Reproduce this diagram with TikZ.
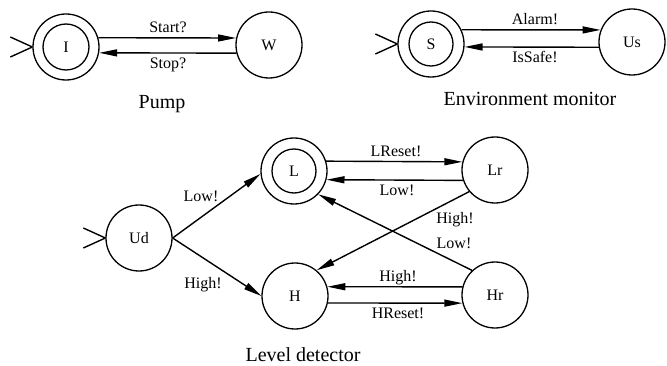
\documentclass[tikz,border=0pt]{standalone}
\usepackage{fontspec}
\setmainfont{Liberation Serif}
\usetikzlibrary{arrows.meta}
\begin{document}
\begin{tikzpicture}[x=1pt,y=-1pt,
  state/.style={circle,draw,line width=1.3pt,minimum size=66pt,inner sep=0pt,
    font=\fontsize{16}{18}\selectfont},
  ring/.style={line width=1.3pt},
  trans/.style={line width=1.4pt,-{Triangle[length=18pt,width=7pt]}},
  entry/.style={line width=1.4pt},
  lbl/.style={inner sep=0pt,font=\fontsize{16}{18}\selectfont},
  caption/.style={inner sep=0pt,anchor=base,font=\fontsize{20}{22}\selectfont}]
\useasboundingbox (0,0) rectangle (667,366);

% ---------- Pump ----------
\node[state] (I) at (66,47) {I};
\node[state] (W) at (269,45) {W};
\draw[ring] (I.center) circle[radius=23pt];
\draw[entry] (I.west) -- ++(-22,-10);
\draw[entry] (I.west) -- ++(-22,10);
\draw[trans] (I.16) -- (W.168);
\draw[trans] (W.194) -- (I.-10);
\node[lbl,anchor=base] (lstart) at (168,33) {Start?};
\node[lbl,anchor=base] (lstop) at (168,69) {Stop?};
\node[caption] (cpump) at (162,109) {Pump};

% ---------- Environment monitor ----------
\node[state] (S) at (431,44) {S};
\node[state] (Us) at (632,42) {Us};
\draw[ring] (S.center) circle[radius=22pt];
\draw[entry] (S.west) -- ++(-22,-10);
\draw[entry] (S.west) -- ++(-22,10);
\draw[trans] (S.25) -- (Us.159);
\draw[trans] (Us.189) -- (S.-5);
\node[lbl,anchor=base] (lalarm) at (535,25) {Alarm!};
\node[lbl,anchor=base] (lsafe) at (535,63) {IsSafe!};
\node[caption] (cenv) at (530,106) {Environment monitor};

% ---------- Level detector ----------
\node[state] (Ud) at (139,238) {Ud};
\node[state] (L) at (294,171) {L};
\node[state] (Lr) at (495,170) {Lr};
\node[state] (H) at (295,296) {H};
\node[state] (Hr) at (495,295) {Hr};
\draw[ring] (L.center) circle[radius=22pt];
\draw[entry] (Ud.west) -- ++(-22,-10);
\draw[entry] (Ud.west) -- ++(-22,10);

\draw[trans] (Ud.east) -- (L.185);
\draw[trans] (Ud.east) -- (H.180);
\node[lbl] (ludlow) at (201,196) {Low!};
\node[lbl] (ludhigh) at (203,285) {High!};

\draw[trans] (L.17) -- (Lr.166);
\draw[trans] (Lr.198) -- (L.-15);
\node[lbl,anchor=base] (llreset) at (396,157) {LReset!};
\node[lbl,anchor=base] (llrlow) at (397,196) {Low!};

\draw[trans] (Hr.166) -- (H.16);
\draw[trans] (H.-12) -- (Hr.194);
\node[lbl,anchor=base] (lhrhigh) at (398,282) {High!};
\node[lbl,anchor=base] (lhreset) at (398,318) {HReset!};

\draw[trans] (Lr.220) -- (H.50);
\draw[trans] (Hr.133) -- (L.-44);
\node[lbl] (lxhigh) at (455,220) {High!};
\node[lbl] (lxlow) at (454,243) {Low!};

\node[caption] (cld) at (303,361) {Level detector};
\end{tikzpicture}
\end{document}
